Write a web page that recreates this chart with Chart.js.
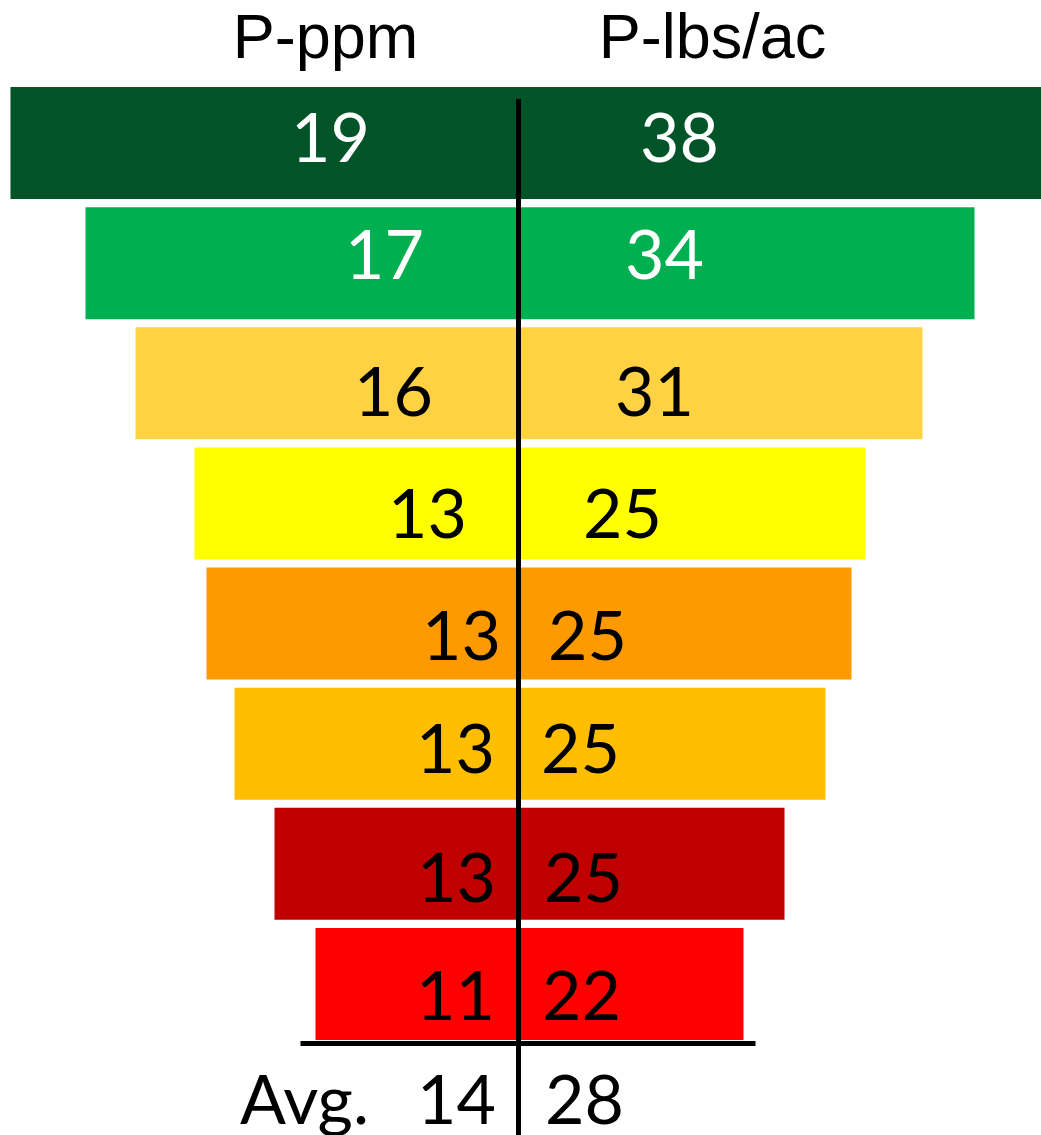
<!DOCTYPE html>
<html>
<head>
<meta charset="utf-8">
<title>P-ppm / P-lbs/ac</title>
<script src="https://cdn.jsdelivr.net/npm/chart.js@4.4.1/dist/chart.umd.min.js"></script>
<style>
  html, body { margin: 0; padding: 0; background: #fff; }
  #wrap { width: 1041px; height: 1135px; position: relative; }
</style>
</head>
<body>
<div id="wrap"><canvas id="myChart" width="1041" height="1135"></canvas></div>
<script>
// values shown in each funnel row
const ppmValues = [19, 17, 16, 13, 13, 13, 13, 11];
const lbsValues = [38, 34, 31, 25, 25, 25, 25, 22];
const avgPpm = 14;
const avgLbs = 28;
// half-widths of each funnel bar either side of the centre line
const leftWidth = [508, 433, 383, 324, 312, 284, 244, 203];
const rightWidth = [523, 456, 404, 347, 333, 307, 266, 225];
const rowNames = ['r1', 'r2', 'r3', 'r4', 'r5', 'r6', 'r7', 'r8'];

const barColors = ['#005427', '#00AF50', '#FFD243', '#FFFF00', '#FC9A00', '#FFBF00', '#C00000', '#FF0000'];
const textColors = ['#fff', '#fff', '#000', '#000', '#000', '#000', '#000', '#000'];

// label placement (x offset from the centre line, baseline offset from the bar centre)
const ppmLabelX = [-188, -134, -125, -91, -57, -63, -62, -63];
const lbsLabelX = [161, 146, 136, 104, 69, 62, 65, 63];
const labelDy = [19, 16, 33, 35, 36, 29, 38, 36];

const funnelText = {
    id: 'funnelText',
    afterDatasetsDraw(chart) {
        const ctx = chart.ctx;
        const x = chart.scales.x;
        const y = chart.scales.y;
        const cx = x.getPixelForValue(0);
        ctx.save();

        // centre divider
        ctx.strokeStyle = '#000';
        ctx.lineWidth = 5;
        ctx.beginPath();
        ctx.moveTo(cx, 99);
        ctx.lineTo(cx, 1135);
        ctx.stroke();

        // rule under the last bar
        ctx.beginPath();
        ctx.moveTo(x.getPixelForValue(-218), 1043.5);
        ctx.lineTo(x.getPixelForValue(237), 1043.5);
        ctx.stroke();

        // headers
        ctx.fillStyle = '#000';
        ctx.textAlign = 'center';
        ctx.textBaseline = 'alphabetic';
        ctx.font = '63px "Liberation Sans", Arial, sans-serif';
        ctx.fillText('P-ppm', x.getPixelForValue(-193), 58);
        ctx.fillText('P-lbs/ac', x.getPixelForValue(194), 58);

        // row values
        ctx.font = '68px Lato, "Open Sans", sans-serif';
        ppmValues.forEach(function(v, i) {
            const yc = y.getPixelForValue(i);
            ctx.fillStyle = textColors[i];
            ctx.fillText(String(v), x.getPixelForValue(ppmLabelX[i]), yc + labelDy[i]);
            ctx.fillText(String(lbsValues[i]), x.getPixelForValue(lbsLabelX[i]), yc + labelDy[i]);
        });

        // average row
        ctx.fillStyle = '#000';
        ctx.textAlign = 'left';
        ctx.fillText('Avg.', 240, 1124);
        ctx.textAlign = 'center';
        ctx.fillText(String(avgPpm), x.getPixelForValue(-62), 1124);
        ctx.fillText(String(avgLbs), x.getPixelForValue(66), 1124);
        ctx.restore();
    }
};

function draw() {
    const ctx = document.getElementById('myChart').getContext('2d');
    new Chart(ctx, {
        type: 'bar',
        data: {
            labels: rowNames,
            datasets: [{
                data: leftWidth.map((l, i) => [-l, rightWidth[i]]),
                backgroundColor: barColors,
                borderWidth: 0,
                barPercentage: 0.933,
                categoryPercentage: 1
            }]
        },
        options: {
            indexAxis: 'y',
            responsive: false,
            devicePixelRatio: 1,
            animation: false,
            layout: { padding: { top: 83, bottom: 91, left: 0, right: 0 } },
            scales: {
                x: { type: 'linear', min: -518.5, max: 522.5, display: false },
                y: { display: false }
            },
            plugins: {
                legend: { display: false },
                tooltip: { enabled: false }
            }
        },
        plugins: [funnelText]
    });
}

Promise.all([
    document.fonts.load('68px Lato'),
    document.fonts.load('63px "Liberation Sans"')
]).then(draw, draw);
</script>
</body>
</html>
